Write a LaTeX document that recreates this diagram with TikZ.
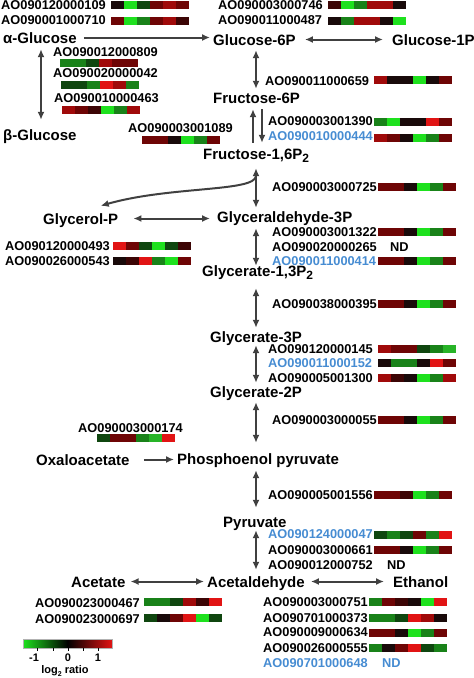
\documentclass[tikz,border=0pt]{standalone}
\usepackage{fontspec}
\setmainfont{Liberation Sans}
\usepackage{xcolor}
\usetikzlibrary{arrows.meta}

\definecolor{hg}{RGB}{30,225,30}
\definecolor{lg}{RGB}{40,180,40}
\definecolor{mg}{RGB}{25,130,25}
\definecolor{dg}{RGB}{15,70,15}
\definecolor{bk}{RGB}{25,10,10}
\definecolor{bkr}{RGB}{60,5,5}
\definecolor{dr}{RGB}{110,5,5}
\definecolor{rr}{RGB}{160,10,10}
\definecolor{hr}{RGB}{225,20,20}
\definecolor{idblue}{RGB}{70,140,210}

% one row of the heat map: left, top, six colours
\newcommand{\heatrow}[3]{%
  \foreach \c [count=\i from 0] in {#3}
    \fill[\c] (#1+\i*13,#2) rectangle ++(13,7.5);%
}

\begin{document}
\begin{tikzpicture}[
    x=1pt, y=-1pt,
    metab/.style={
        anchor=base west,
        font=\fontsize{15}{15}\selectfont\bfseries,
        text height=11pt,
        text depth=0pt,
        inner sep=3pt
    },
    gene/.style={
        anchor=base west,
        font=\fontsize{12.8}{13}\selectfont\bfseries,
        inner sep=0pt
    },
    geneblue/.style={gene, text=idblue},
    keylabel/.style={font=\fontsize{11}{11}\selectfont\bfseries, inner sep=0pt},
    arrow/.style={{Latex[length=8pt,width=7pt]}-{Latex[length=8pt,width=7pt]}, line width=2pt, draw=black!75},
    onearrow/.style={-{Latex[length=8pt,width=7pt]}, line width=2pt, draw=black!75}
]
\useasboundingbox (0,0) rectangle (474,678);

% Metabolites
\node (aglc) [metab] at (0,43) {α-Glucose};
\node (g6p) [metab] at (210,45) {Glucose-6P};
\node (g1p) [metab] at (389,45) {Glucose-1P};
\node (bglc) [metab] at (0,140) {β-Glucose};
\node (f6p) [metab] at (210,103) {Fructose-6P};
\node (f16p) [metab] at (200,159) {Fructose-1,6P\raisebox{-3pt}{\fontsize{12}{12}\selectfont 2}};
\node (glycp) [metab] at (40,224) {Glycerol-P};
\node (gap) [metab] at (214,222) {Glyceraldehyde-3P};
\node (g13p) [metab] at (199,276) {Glycerate-1,3P\raisebox{-3pt}{\fontsize{12}{12}\selectfont 2}};
\node (g3p) [metab] at (207,342) {Glycerate-3P};
\node (g2p) [metab] at (207,397) {Glycerate-2P};
\node (oaa) [metab] at (33,465) {Oxaloacetate};
\node (pep) [metab] at (174,464) {Phosphoenol pyruvate};
\node (pyr) [metab] at (220,527) {Pyruvate};
\node (acet) [metab] at (68,587) {Acetate};
\node (acald) [metab] at (204,587) {Acetaldehyde};
\node (etoh) [metab] at (390,587) {Ethanol};

% Genes
\node (id109) [gene] at (1,9) {AO090120000109};
\node (id710) [gene] at (1,24) {AO090001000710};
\node (id746) [gene] at (218,9) {AO090003000746};
\node (id487) [gene] at (218,24) {AO090011000487};
\node (id809) [gene] at (53,56) {AO090012000809};
\node (id042) [gene] at (53,77) {AO090020000042};
\node (id463) [gene] at (54,102) {AO090010000463};
\node (id1089) [gene] at (128,132) {AO090003001089};
\node (id659) [gene] at (265,85) {AO090011000659};
\node (id1390) [gene] at (268,125) {AO090003001390};
\node (id444) [geneblue] at (268,140) {AO090010000444};
\node (id725) [gene] at (272,191) {AO090003000725};
\node (id493) [gene] at (5,250) {AO090120000493};
\node (id543) [gene] at (5,265) {AO090026000543};
\node (id1322) [gene] at (272,236) {AO090003001322};
\node (id265) [gene] at (272,251) {AO090020000265};
\node (nd265) [gene] at (390,251) {ND};
\node (id414) [geneblue] at (272,265) {AO090011000414};
\node (id395) [gene] at (272,308) {AO090038000395};
\node (id145) [gene] at (268,353) {AO090120000145};
\node (id152) [geneblue] at (268,367) {AO090011000152};
\node (id1300) [gene] at (268,382) {AO090005001300};
\node (id055) [gene] at (272,424) {AO090003000055};
\node (id174) [gene] at (78,432) {AO090003000174};
\node (id1556) [gene] at (268,499) {AO090005001556};
\node (id047) [geneblue] at (268,538) {AO090124000047};
\node (id661) [gene] at (268,554) {AO090003000661};
\node (id752) [gene] at (268,569) {AO090012000752};
\node (nd752) [gene] at (387,569) {ND};
\node (id467) [gene] at (35,607) {AO090023000467};
\node (id697) [gene] at (35,623) {AO090023000697};
\node (id751) [gene] at (263,606) {AO090003000751};
\node (id373) [gene] at (263,622) {AO090701000373};
\node (id634) [gene] at (263,636) {AO090009000634};
\node (id555) [gene] at (263,652) {AO090026000555};
\node (id648) [geneblue] at (263,667) {AO090701000648};
\node (nd648) [geneblue] at (382,667) {ND};

% Heat map rows
\heatrow{111}{1}{bk,hg,dg,dr,rr,dr}
\heatrow{111}{17}{dr,hg,mg,dr,rr,bkr}
\heatrow{328}{1}{bkr,hg,mg,rr,rr,bk}
\heatrow{328}{17}{bk,mg,rr,rr,bk,hg}
\heatrow{60}{59}{mg,mg,dg,rr,dr,dr}
\heatrow{61}{81}{dg,dg,mg,hr,rr,mg}
\heatrow{62}{106}{rr,dr,bkr,hg,mg,rr}
\heatrow{142}{136}{dr,dr,bk,hg,mg,dr}
\heatrow{374}{76}{rr,bk,bk,hg,bk,dr}
\heatrow{374}{118}{mg,hg,bk,bk,hr,dr}
\heatrow{374}{134}{rr,dr,bk,hg,mg,dr}
\heatrow{378}{183}{dr,dr,bk,hg,mg,dr}
\heatrow{113}{242}{hr,dr,dg,hg,dg,bkr}
\heatrow{113}{257}{bk,bkr,hr,mg,hg,dr}
\heatrow{378}{228}{dr,dr,bk,hg,mg,dr}
\heatrow{378}{257}{dr,dr,bk,hg,mg,dr}
\heatrow{378}{300}{dr,dr,bk,hg,mg,dr}
\heatrow{378}{345}{rr,dr,dr,dg,mg,lg}
\heatrow{378}{359}{bk,mg,mg,bk,hr,dr}
\heatrow{378}{374}{rr,bkr,bk,hg,mg,rr}
\heatrow{378}{416}{dr,dr,bk,hg,mg,dr}
\heatrow{97}{434}{dg,dr,dr,mg,lg,hr}
\heatrow{374}{491}{dr,dr,bkr,hg,mg,dr}
\heatrow{374}{531}{dg,mg,dg,dr,mg,hr}
\heatrow{374}{546}{dr,dr,bk,hg,mg,dr}
\heatrow{144}{598}{mg,mg,dg,rr,bkr,hr}
\heatrow{144}{614}{dg,bk,dr,hr,hg,dg}
\heatrow{369}{598}{mg,dr,bkr,bk,hg,hr}
\heatrow{369}{614}{mg,mg,dg,hr,rr,bk}
\heatrow{369}{629}{dr,dr,bk,hg,mg,dr}
\heatrow{369}{644}{mg,bk,dr,hr,dg,mg}

% Connections
\coordinate (spine) at (256,0);
\coordinate (spineL) at (253,0);
\coordinate (spineR) at (262,0);
\coordinate (side) at (41,0);
\coordinate (branch) at (256,176);

\draw [onearrow, shorten <=4pt] (aglc.east) -- (aglc.east -| g6p.west);
\draw [arrow, shorten <=6pt, shorten >=6pt] (g6p.east) -- (g6p.east -| g1p.west);
\draw [arrow, shorten <=3pt, shorten >=6pt] (aglc.south -| side) -- (bglc.north -| side);
\draw [arrow, shorten <=2pt] (g6p.south -| spine) -- (f6p.north -| spine);
\draw [onearrow, shorten <=2pt, shorten >=3pt] (f16p.north -| spineL) -- (f6p.south -| spineL);
\draw [onearrow, shorten <=3pt, shorten >=2pt] (f6p.south -| spineR) -- (f16p.north -| spineR);
\draw [arrow, shorten <=6pt] (f16p.south -| spine) -- (gap.north -| spine);
\draw [onearrow] (branch) .. controls (255,192) and (170,186) .. ([xshift=20pt,yshift=4pt]glycp.north);
\draw [arrow, shorten <=12pt, shorten >=4pt] (glycp.east) -- (glycp.east -| gap.west);
\draw [arrow, shorten <=3pt, shorten >=-4pt] (gap.south -| spine) -- (g13p.north -| spine);
\draw [arrow, shorten <=9pt] (g13p.south -| spine) -- (g3p.north -| spine);
\draw [arrow] (g3p.south -| spine) -- (g2p.north -| spine);
\draw [arrow, shorten <=2pt, shorten >=7pt] (g2p.south -| spine) -- (pep.north -| spine);
\draw [arrow, shorten <=3pt, shorten >=5pt] (pep.south -| spine) -- (pyr.north -| spine);
\draw [arrow, shorten >=3pt] (pyr.south -| spine) -- (acald.north -| spine);
\draw [onearrow, shorten <=11pt] (oaa.east) -- (oaa.east -| pep.west);
\draw [arrow, shorten <=2pt] (acet.east) -- (acet.east -| acald.west);
\draw [arrow, shorten <=3pt, shorten >=6pt] (acald.east) -- (acald.east -| etoh.west);

% Colour key
\shade [left color=hg, right color=hr, middle color=black] (23,639) rectangle (112,648);
\draw [black!30, line width=0.3pt] (23,639) rectangle (112,648);
\foreach \t in {37,53,68,83,98}
  \draw [line width=0.8pt] (\t,648) -- (\t,651);
\node (keylo) [keylabel] at (34,658) {-1};
\node (keymid) [keylabel] at (68,658) {0};
\node (keyhi) [keylabel] at (98,658) {1};
\node (keytitle) [keylabel] at (65,671) {log\raisebox{-2.5pt}{\fontsize{7}{7}\selectfont 2} ratio};

\end{tikzpicture}
\end{document}
